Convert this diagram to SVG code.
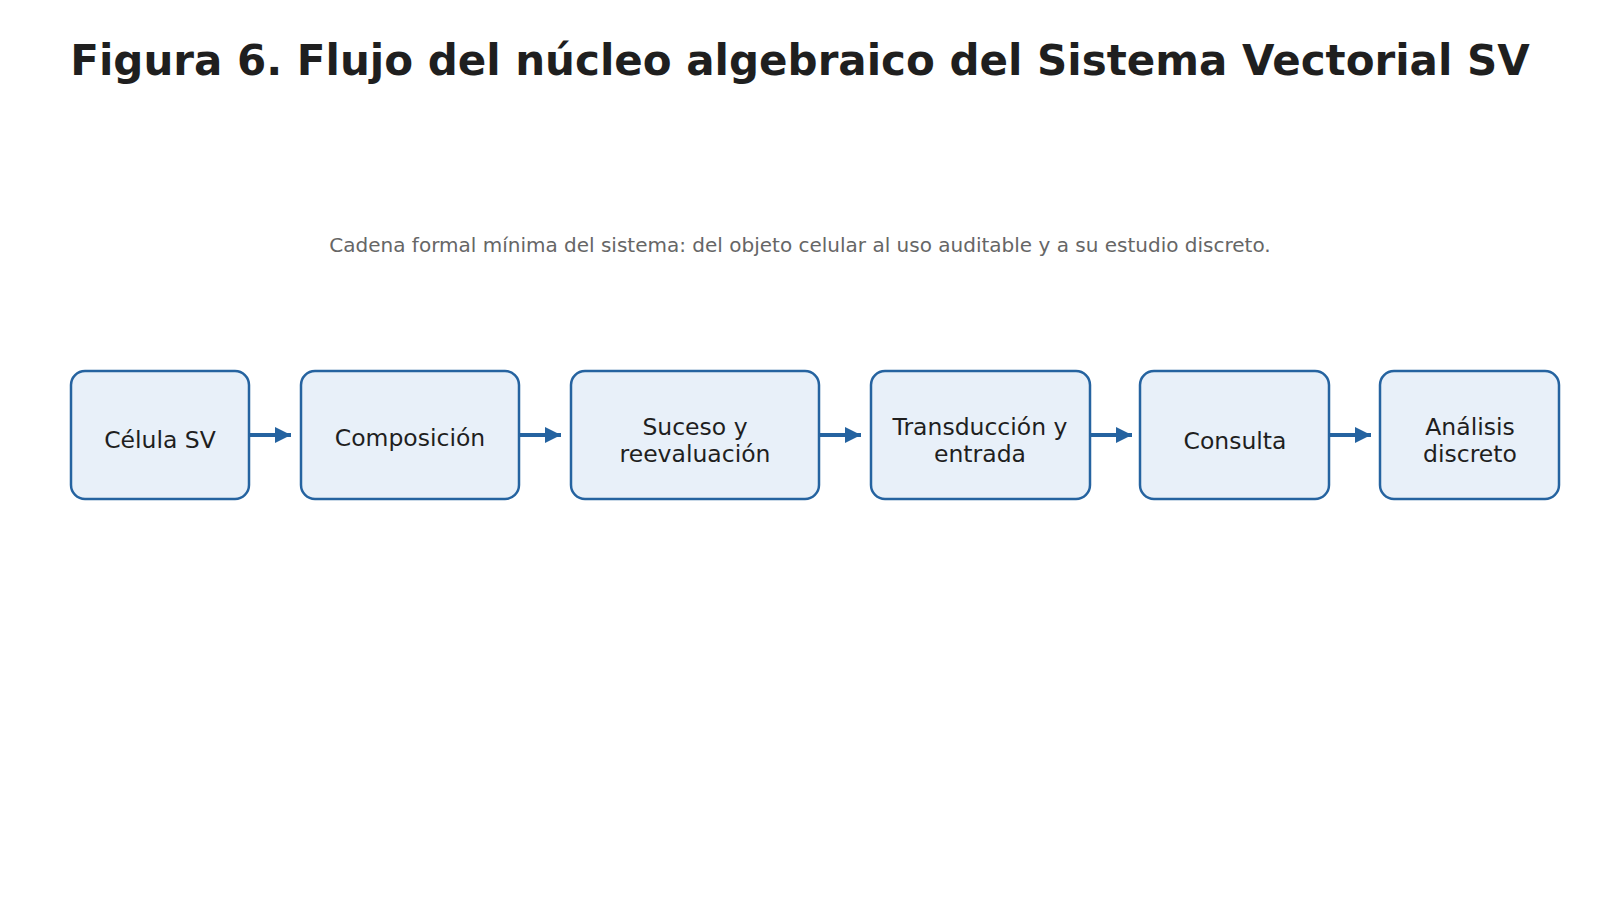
<svg xmlns="http://www.w3.org/2000/svg" width="1600" height="900" viewBox="0 0 1600 900">
<style>
.box{fill:#e8f0f9;stroke:#2563a0;stroke-width:2.5}
.t{font-family:"DejaVu Sans",sans-serif;font-size:23.5px;fill:#1f1f1f;text-anchor:middle}
.c{stroke:#2563a0;stroke-width:4;fill:none}
</style>
<defs><marker id="m" viewBox="0 0 16 16" refX="16" refY="8" markerWidth="16" markerHeight="16" markerUnits="userSpaceOnUse" orient="auto"><path d="M0,0 L16,8 L0,16 Z" fill="#2563a0"/></marker></defs>
<rect width="1600" height="900" fill="#fff"/>
<text x="800" y="75" font-family="DejaVu Sans,sans-serif" font-weight="bold" font-size="42" fill="#1f1f1f" text-anchor="middle">Figura 6. Flujo del núcleo algebraico del Sistema Vectorial SV</text>
<text x="800" y="252" font-family="DejaVu Sans,sans-serif" font-size="20" fill="#666" text-anchor="middle">Cadena formal mínima del sistema: del objeto celular al uso auditable y a su estudio discreto.</text>
<g id="connectors">
<path class="c" d="M250,435 H291" marker-end="url(#m)"/>
<path class="c" d="M520,435 H561" marker-end="url(#m)"/>
<path class="c" d="M820,435 H861" marker-end="url(#m)"/>
<path class="c" d="M1091,435 H1132" marker-end="url(#m)"/>
<path class="c" d="M1330,435 H1371" marker-end="url(#m)"/>
</g>
<g id="n1"><rect class="box" x="71" y="371" width="178" height="128" rx="14"/><text class="t" x="160" y="448">Célula SV</text></g>
<g id="n2"><rect class="box" x="301" y="371" width="218" height="128" rx="14"/><text class="t" x="410" y="446">Composición</text></g>
<g id="n3"><rect class="box" x="571" y="371" width="248" height="128" rx="14"/><text class="t" x="695" y="435">Suceso y</text><text class="t" x="695" y="462">reevaluación</text></g>
<g id="n4"><rect class="box" x="871" y="371" width="219" height="128" rx="14"/><text class="t" x="980" y="435">Transducción y</text><text class="t" x="980" y="462">entrada</text></g>
<g id="n5"><rect class="box" x="1140" y="371" width="189" height="128" rx="14"/><text class="t" x="1235" y="449">Consulta</text></g>
<g id="n6"><rect class="box" x="1380" y="371" width="179" height="128" rx="14"/><text class="t" x="1470" y="435">Análisis</text><text class="t" x="1470" y="462">discreto</text></g>
</svg>
